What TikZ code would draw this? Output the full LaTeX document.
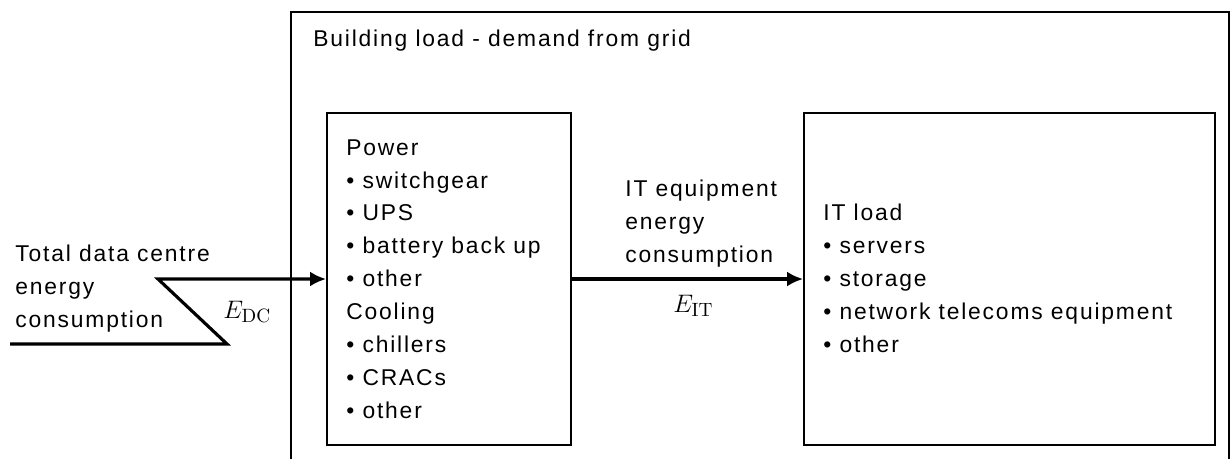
\documentclass[tikz,border=0pt]{standalone}
\usepackage[no-math]{fontspec}
\setmainfont[LetterSpace=8]{Liberation Sans}
\usetikzlibrary{arrows.meta,positioning}
\tikzset{
  boite/.style={rectangle, draw=black, line width=1.1pt, inner sep=0pt},
  texte/.style={align=left, inner sep=0pt, anchor=base west, font=\fontsize{13}{18.7}\selectfont},
  formule/.style={inner sep=0pt, anchor=base west, font=\fontsize{15}{17}\selectfont},
  fleche/.style={-{Latex[length=3.2mm,width=3mm]}, line width=1.8pt},
}
\begin{document}
\begin{tikzpicture}[x=0.02cm, y=-0.02cm]
        \useasboundingbox (0,0) rectangle (1230,458);
        \clip (0,0) rectangle (1230,458);
        \node[boite, minimum width=18.76cm, minimum height=9.8cm] (bat) at (760,257) {};
        \node[texte] (titre) at (313,46) {Building load - demand from grid};
        \node[boite, minimum width=4.88cm, minimum height=6.64cm] (power) at (449,279) {};
        \node[boite, minimum width=8.22cm, minimum height=6.64cm] (itload) at (1009.5,279) {};
        % les listes : ancre sur la ligne de base de la derniere ligne
        \node[texte] (listeP) at (346,418) {Power\\\textbullet\ switchgear\\\textbullet\ UPS\\\textbullet\ battery back up\\\textbullet\ other\\Cooling\\\textbullet\ chillers\\\textbullet\ CRACs\\\textbullet\ other};
        \node[texte] (listeIT) at (823,352) {IT load\\\textbullet\ servers\\\textbullet\ storage\\\textbullet\ network telecoms equipment\\\textbullet\ other};
        \node[texte] (total) at (15,327) {Total data centre\\energy\\consumption};
        \node[texte] (iteq) at (625,262) {IT equipment\\energy\\consumption};
        \node[formule] (edc) at (223,318) {$E_{\mathrm{DC}}$};
        \node[formule] (eit) at (673,312) {$E_{\mathrm{IT}}$};
        \coordinate (z1) at (158,279);
        \coordinate (z2) at (227,344);
        \coordinate (z3) at (10,344);
        \draw[fleche] (z3) -- (z2) -- (z1) -- (power.west);
        \draw[fleche] (power.east) -- (itload.west);
      \end{tikzpicture}
\end{document}
